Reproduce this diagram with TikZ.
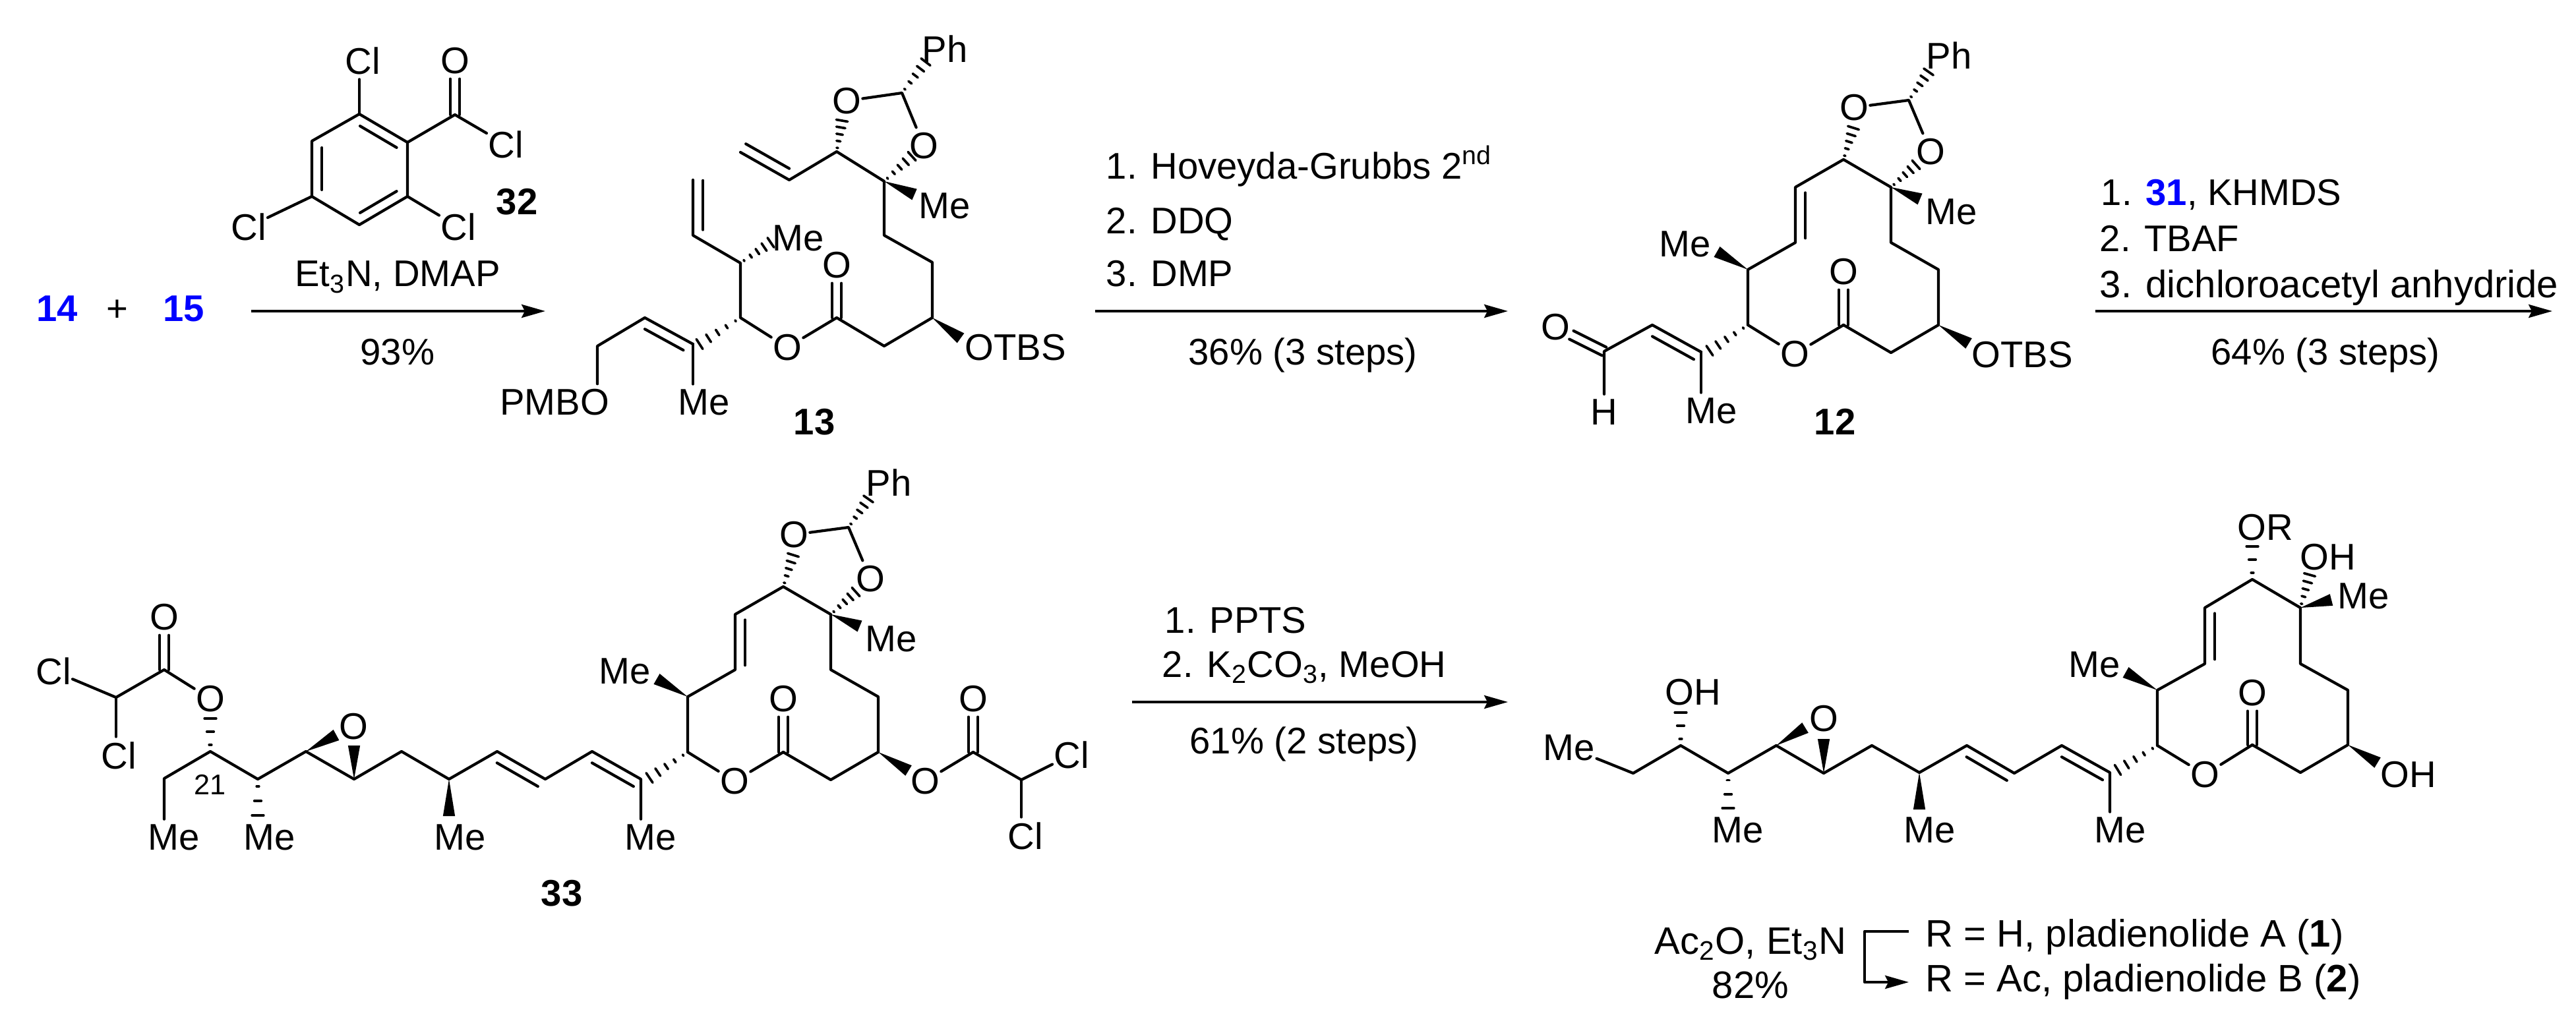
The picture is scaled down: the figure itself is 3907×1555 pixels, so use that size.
\documentclass[tikz,border=0pt]{standalone}
\usepackage{fontspec}
\setmainfont{Liberation Sans}
\usetikzlibrary{arrows.meta,calc}
\definecolor{chemblue}{RGB}{0,0,255}

\def\wdghalf{2.6pt}
\def\hshhalf{2.5pt}

% Stereo bonds
\newcommand{\wdg}[2]{\fill (#1) -- ($(#2)!\wdghalf!90:(#1)$) -- ($(#2)!\wdghalf!-90:(#1)$) -- cycle;}
\newcommand{\hsh}[3][{0.12,0.34,0.56,0.78,1}]{%
    \foreach \t in {#1}{
        \coordinate (hh) at ($(#2)!\t!(#3)$);
        \draw[hashl] ($(hh)!\t*\hshhalf!90:(#2)$) -- ($(hh)!\t*\hshhalf!-90:(#2)$);
    }}
% Double bonds
\newcommand{\cdbl}[2]{%
    \draw[bond,transform canvas={xshift=2pt}] (#1) -- (#2);
    \draw[bond,transform canvas={xshift=-2pt}] (#1) -- (#2);}
\newcommand{\dblin}[5]{\draw[bond] ($(#1)!#4!(#2)!4.3pt!#3:(#2)$) -- ($(#1)!#5!(#2)!4.3pt!#3:(#2)$);}

% Macrolide ring shared by 12 and 33
\newcommand{\molcore}{%
    \coordinate (k1) at (1043,1141);
    \coordinate (k2) at (1043,1057);
    \coordinate (k3) at (1115,1016);
    \coordinate (k4) at (1115,932);
    \coordinate (k5) at (1188,890);
    \coordinate (k6) at (1260,932);
    \coordinate (k7) at (1260,1016);
    \coordinate (k8) at (1332,1057);
    \coordinate (k9) at (1332,1141);
    \coordinate (k10) at (1260,1183);
    \coordinate (k11) at (1188,1141);
    \coordinate (kac) at (1287,800);
    \coordinate (kalk) at (972,1182);
    \node[atom] (kor) at (1114,1185) {O};
    \node[atom] (kox) at (1188,1060) {O};
    \node[atom] (ko1) at (1204,811) {O};
    \node[atom] (ko2) at (1320,878) {O};
    \node[atom] (kph) at (1348,732) {Ph};
    \node[atom] (kme1) at (1352,969) {Me};
    \node[atom] (kme2) at (948,1018) {Me};
    \draw[bond] (k1) -- (k2) -- (k3) -- (k4) -- (k5) -- (k6) -- (k7) -- (k8) -- (k9) -- (k10) -- (k11);
    \draw[bond] (k1) -- (kor) -- (k11);
    \draw[bond] (ko1) -- (kac) -- (ko2);
    \cdbl{k11}{kox}
    \dblin{k3}{k4}{-90}{.08}{.9}
    \hsh{k5}{1203,842}
    \hsh{k6}{1298,898}
    \hsh{kac}{1317,757}
    \hsh{k1}{985,1180}
    \wdg{k6}{1304,950}
    \wdg{k2}{996,1030}
    \wdg{k9}{1378,1169}
}

\begin{document}
\begin{tikzpicture}[
x=0.01cm, y=-0.01cm,
every node/.style={font=\fontsize{16}{18}\selectfont},
wide/.style={font=\fontsize{16.5}{18}\selectfont},
bond/.style={line width=1.2pt, line join=round, line cap=round},
hashl/.style={line width=1.05pt, line cap=round},
rxn/.style={line width=1.2pt, -{Stealth[length=10.2pt,width=5.7pt,inset=1.4pt]}},
atom/.style={inner xsep=0.5pt, inner ysep=2pt},
txt/.style={inner sep=0pt, anchor=base},
txtw/.style={inner sep=0pt, anchor=base west},
cmpd/.style={inner sep=0pt, font=\fontsize{16}{18}\selectfont\bfseries},
]
    \useasboundingbox (0,0) rectangle (3907,1555);

    % Reactants
    \node [txt, text=chemblue, font=\fontsize{16}{18}\selectfont\bfseries] (n14) at (87,487) {14};
    \node [txt] (plus) at (178,487) {+};
    \node [txt, text=chemblue, font=\fontsize{16}{18}\selectfont\bfseries] (n15) at (279,487) {15};

    % Acid chloride 32
    \coordinate (r1) at (545,173);
    \coordinate (r2) at (618,216);
    \coordinate (r3) at (618,298);
    \coordinate (r4) at (545,341);
    \coordinate (r5) at (473,298);
    \coordinate (r6) at (473,214);
    \coordinate (rc) at (690,174);
    \node [atom] (rcl1) at (550,92) {Cl};
    \node [atom] (rox) at (690,92) {O};
    \node [atom] (rcl2) at (767,219) {Cl};
    \node [atom] (rcl3) at (695,344) {Cl};
    \node [atom] (rcl4) at (377,344) {Cl};
    \node [cmpd] (n32) at (784,306) {32};
    \draw [bond] (r1) -- (r2) -- (r3) -- (r4) -- (r5) -- (r6) -- cycle;
    \draw [bond] (r1) -- (r1 |- rcl1.south);
    \draw [bond] (r2) -- (rc) -- (rcl2);
    \draw [bond] (r3) -- (rcl3);
    \draw [bond] (r5) -- (rcl4);
    \cdbl{rc}{rox}
    \dblin{r1}{r2}{-90}{.12}{.88}
    \dblin{r3}{r4}{-90}{.12}{.88}
    \dblin{r5}{r6}{-90}{.12}{.88}

    % First arrow
    \coordinate (a1s) at (381,472);
    \coordinate (a1e) at (827,472);
    \draw [rxn] (a1s) -- (a1e);
    \node [txt] (a1t) at (603,435) {Et\textsubscript{3}N, DMAP};
    \node [txt] (a1y) at (603,553) {93\%};

    % Compound 13
    \coordinate (t1) at (1051,273);
    \coordinate (t2) at (1051,357);
    \coordinate (t3) at (1123,399);
    \coordinate (t4) at (1123,482);
    \coordinate (t5) at (1269,482);
    \coordinate (t6) at (1341,525);
    \coordinate (t7) at (1414,482);
    \coordinate (t8) at (1414,398);
    \coordinate (t9) at (1341,357);
    \coordinate (t10) at (1341,275);
    \coordinate (t11) at (1269,230);
    \coordinate (t12) at (1197,273);
    \coordinate (t13) at (1123,231);
    \coordinate (t14) at (1051,522);
    \coordinate (t15) at (978,482);
    \coordinate (t16) at (906,525);
    \coordinate (tac) at (1368,141);
    \node [atom] (tor) at (1194,527) {O};
    \node [atom] (tox) at (1269,402) {O};
    \node [atom] (to1) at (1284,153) {O};
    \node [atom] (to2) at (1401,221) {O};
    \node [atom] (tph) at (1433,74) {Ph};
    \node [atom] (tme1) at (1211,361) {Me};
    \node [atom] (tme2) at (1433,312) {Me};
    \node [atom] (tme3) at (1068,610) {Me};
    \node [atom] (totbs) at (1540,527) {OTBS};
    \node [atom] (tpmb) at (841,610) {PMBO};
    \node [cmpd] (n13) at (1235,640) {13};
    \draw [bond] (t1) -- (t2) -- (t3) -- (t4) -- (tor) -- (t5) -- (t6) -- (t7) -- (t8) -- (t9) -- (t10) -- (t11) -- (t12) -- (t13);
    \draw [bond] (t14) -- (t15) -- (t16) -- (t16 |- tpmb.north);
    \draw [bond] (t14) -- (t14 |- tme3.north);
    \draw [bond] (to1) -- (tac) -- (to2);
    \cdbl{t5}{tox}
    \dblin{t2}{t1}{-90}{.1}{.99}
    \dblin{t12}{t13}{-90}{.1}{.99}
    \dblin{t14}{t15}{90}{.1}{.9}
    \hsh{t3}{1169,368}
    \hsh{t4}{1061,522}
    \hsh{t11}{1277,183}
    \hsh{t10}{1383,237}
    \hsh{tac}{1404,94}
    \wdg{t10}{1387,295}
    \wdg{t7}{1457,513}

    % Second arrow
    \coordinate (a2s) at (1661,472);
    \coordinate (a2e) at (2287,472);
    \draw [rxn] (a2s) -- (a2e);
    \node [txtw] (a2t1) at (1677,272) {1. Hoveyda-Grubbs 2\textsuperscript{nd}};
    \node [txtw] (a2t2) at (1677,355) {2. DDQ};
    \node [txtw] (a2t3) at (1677,435) {3. DMP};
    \node [txt] (a2y) at (1976,553) {36\% (3 steps)};

    % Aldehyde 12
    \begin{scope}[shift={(1608,-648)}]
        \molcore
    \end{scope}
    \coordinate (e2) at (2506,493);
    \coordinate (e3) at (2433,533);
    \node [atom] (eox) at (2359,496) {O};
    \node [atom] (eh) at (2433,625) {H};
    \node [atom] (eme) at (2596,623) {Me};
    \node [atom] (eotbs) at (3067,538) {OTBS};
    \node [cmpd] (n12) at (2783,640) {12};
    \draw [bond] (kalk) -- (e2) -- (e3) -- (e3 |- eh.north);
    \draw [bond] (kalk) -- (kalk |- eme.north);
    \draw [bond, transform canvas={xshift=0.9pt,yshift=1.8pt}] (e3) -- (eox);
    \draw [bond, transform canvas={xshift=-0.9pt,yshift=-1.8pt}] (e3) -- (eox);
    \dblin{e2}{kalk}{-90}{.1}{.95}

    % Third arrow
    \coordinate (a3s) at (3178,472);
    \coordinate (a3e) at (3871,472);
    \draw [rxn] (a3s) -- (a3e);
    \node [txtw] (a3t1) at (3186,312) {1. \textcolor{chemblue}{\textbf{31}}, KHMDS};
    \node [txtw] (a3t2) at (3184,382) {2. TBAF};
    \node [txtw, wide] (a3t3) at (3184,451) {3. dichloroacetyl anhydride};
    \node [txt] (a3y) at (3527,553) {64\% (3 steps)};

    % Compound 33
    \molcore
    \coordinate (d0) at (176,1058);
    \coordinate (d1) at (249,1016);
    \coordinate (d2) at (319,1140);
    \coordinate (d3) at (249,1181);
    \coordinate (d4) at (391,1182);
    \coordinate (d5) at (464,1140);
    \coordinate (d6) at (537,1182);
    \coordinate (d7) at (609,1140);
    \coordinate (d8) at (681,1182);
    \coordinate (d9) at (754,1140);
    \coordinate (d10) at (827,1182);
    \coordinate (d11) at (898,1140);
    \coordinate (f1) at (1476,1141);
    \coordinate (f2) at (1549,1183);
    \node [atom] (dcl1) at (81,1018) {Cl};
    \node [atom] (dcl2) at (180,1146) {Cl};
    \node [atom] (dox) at (249,936) {O};
    \node [atom] (dor) at (319,1060) {O};
    \node [atom] (dep) at (536,1102) {O};
    \node [atom] (dme1) at (264,1270) {Me};
    \node [atom] (dme2) at (409,1270) {Me};
    \node [atom] (dme3) at (698,1270) {Me};
    \node [atom] (dme4) at (987,1270) {Me};
    \node [atom, font=\fontsize{12.3}{14}\selectfont] (dnum) at (319,1190) {21};
    \node [atom] (for) at (1403,1185) {O};
    \node [atom] (fox) at (1476,1060) {O};
    \node [atom] (fcl1) at (1625,1145) {Cl};
    \node [atom] (fcl2) at (1555,1268) {Cl};
    \node [cmpd] (n33) at (852,1355) {33};
    \draw [bond] (dcl1) -- (d0) -- (d1) -- (dor);
    \draw [bond] (d0) -- (d0 |- dcl2.north);
    \draw [bond] (d3 |- dme1.north) -- (d3) -- (d2) -- (d4) -- (d5) -- (d6) -- (d7) -- (d8) -- (d9) -- (d10) -- (d11) -- (kalk) -- (kalk |- dme4.north);
    \draw [bond] (for) -- (f1) -- (f2) -- (fcl1);
    \draw [bond] (f2) -- (f2 |- fcl2.north);
    \cdbl{d1}{dox}
    \cdbl{f1}{fox}
    \dblin{d9}{d10}{-90}{.1}{.95}
    \dblin{d11}{kalk}{-90}{.1}{.95}
    \hsh[{0.2,0.6,1}]{d2}{319,1090}
    \hsh[{0.2,0.6,1}]{d4}{391,1237}
    \wdg{d5}{510,1115}
    \wdg{d6}{537,1131}
    \wdg{d8}{681,1238}

    % Fourth arrow
    \coordinate (a4s) at (1717,1065);
    \coordinate (a4e) at (2287,1065);
    \draw [rxn] (a4s) -- (a4e);
    \node [txtw] (a4t1) at (1766,960) {1. PPTS};
    \node [txtw] (a4t2) at (1762,1027) {2. K\textsubscript{2}CO\textsubscript{3}, MeOH};
    \node [txt] (a4y) at (1978,1143) {61\% (2 steps)};

    % Pladienolides
    \coordinate (p0) at (2477,1173);
    \coordinate (p1) at (2549,1131);
    \coordinate (p2) at (2621,1173);
    \coordinate (p3) at (2694,1131);
    \coordinate (p4) at (2766,1173);
    \coordinate (p5) at (2839,1131);
    \coordinate (p6) at (2911,1172);
    \coordinate (p7) at (2983,1131);
    \coordinate (p8) at (3055,1173);
    \coordinate (p9) at (3127,1131);
    \coordinate (p10) at (3200,1172);
    \coordinate (p11) at (3272,1131);
    \coordinate (p12) at (3272,1047);
    \coordinate (p13) at (3344,1007);
    \coordinate (p14) at (3344,922);
    \coordinate (p15) at (3416,879);
    \coordinate (p16) at (3489,922);
    \coordinate (p17) at (3489,1007);
    \coordinate (p18) at (3561,1047);
    \coordinate (p19) at (3561,1130);
    \coordinate (p20) at (3489,1172);
    \coordinate (p21) at (3416,1130);
    \node [atom] (pme0) at (2380,1134) {Me};
    \node [atom] (poh1) at (2568,1050) {OH};
    \node [atom] (pme1) at (2636,1259) {Me};
    \node [atom] (pep) at (2766,1090) {O};
    \node [atom] (pme2) at (2927,1259) {Me};
    \node [atom] (pme3) at (3216,1259) {Me};
    \node [atom] (pme4) at (3177,1008) {Me};
    \node [atom] (por) at (3344,1175) {O};
    \node [atom] (pox) at (3416,1051) {O};
    \node [atom] (pr) at (3436,800) {OR};
    \node [atom] (poh2) at (3531,845) {OH};
    \node [atom] (pme5) at (3585,904) {Me};
    \node [atom] (poh3) at (3653,1175) {OH};
    \draw [bond] (pme0) -- (p0) -- (p1) -- (p2) -- (p3) -- (p4) -- (p5) -- (p6) -- (p7) -- (p8) -- (p9) -- (p10) -- (p10 |- pme3.north);
    \draw [bond] (p11) -- (p12) -- (p13) -- (p14) -- (p15) -- (p16) -- (p17) -- (p18) -- (p19) -- (p20) -- (p21);
    \draw [bond] (p11) -- (por) -- (p21);
    \cdbl{p21}{pox}
    \dblin{p7}{p8}{-90}{.1}{.95}
    \dblin{p9}{p10}{-90}{.1}{.95}
    \dblin{p13}{p14}{-90}{.08}{.9}
    \hsh[{0.2,0.6,1}]{p1}{2549,1081}
    \hsh[{0.2,0.6,1}]{p2}{2621,1226}
    \hsh{p11}{3212,1168}
    \hsh[{0.2,0.6,1}]{p15}{3416,829}
    \hsh{p16}{3503,872}
    \wdg{p3}{2738,1104}
    \wdg{p4}{2766,1121}
    \wdg{p6}{2911,1228}
    \wdg{p12}{3224,1020}
    \wdg{p16}{3536,910}
    \wdg{p19}{3606,1157}

    % Acetylation
    \coordinate (b1) at (2895,1413);
    \coordinate (b2) at (2828,1413);
    \coordinate (b3) at (2828,1490);
    \coordinate (b4) at (2895,1490);
    \draw [rxn, line join=round] (b1) -- (b2) -- (b3) -- (b4);
    \node [txt, wide] (bt) at (2655,1447) {Ac\textsubscript{2}O, Et\textsubscript{3}N};
    \node [txt, wide] (by) at (2655,1514) {82\%};
    \node [txtw, wide] (br1) at (2920,1436) {R = H, pladienolide A (\textbf{1})};
    \node [txtw, wide] (br2) at (2920,1504) {R = Ac, pladienolide B (\textbf{2})};
\end{tikzpicture}
\end{document}
